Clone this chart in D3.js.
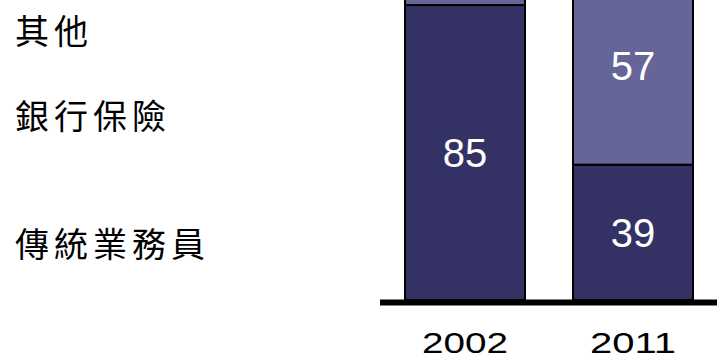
<!DOCTYPE html>
<html>
<head>
<meta charset="utf-8">
<script src="https://cdn.jsdelivr.net/npm/d3@7"></script>
<style>
  html, body { margin: 0; padding: 0; background: #fff; }
  svg { display: block; }
</style>
</head>
<body>
<svg id="chart" width="717" height="362"></svg>
<script>
const categories = ["2002", "2011"];
const seriesNames = ["傳統業務員", "銀行保險", "其他"];
const traditional = [85, 39];
const bancassurance = [12, 57];
const others = [3, 4];
const showLabel = [[true, true], [false, true], [false, false]];

const colors = ["#343264", "#656597", "#8a8ab8"];

const svg = d3.select("#chart");

const rows = categories.map((c, i) => ({
  cat: c,
  "傳統業務員": traditional[i],
  "銀行保險": bancassurance[i],
  "其他": others[i]
}));
const stack = d3.stack().keys(seriesNames)(rows);

const x = d3.scaleBand().domain(categories).range([381, 717])
  .paddingInner(0.2857).paddingOuter(0.1429);
const y = d3.scaleLinear().domain([0, 100]).range([300, -47]);

const g = svg.append("g");
stack.forEach((layer, si) => {
  layer.forEach((d, ci) => {
    g.append("rect")
      .attr("x", x(categories[ci]))
      .attr("y", y(d[1]))
      .attr("width", x.bandwidth())
      .attr("height", y(d[0]) - y(d[1]))
      .attr("fill", colors[si])
      .attr("stroke", "#000")
      .attr("stroke-width", 2);
    if (showLabel[si][ci]) {
      g.append("text")
        .attr("x", x(categories[ci]) + x.bandwidth() / 2)
        .attr("y", (y(d[0]) + y(d[1])) / 2)
        .attr("dy", "0.36em")
        .attr("text-anchor", "middle")
        .attr("fill", "#fff")
        .style("font-family", "'Liberation Sans', Arial, sans-serif")
        .style("font-size", "40px")
        .text(d[1] - d[0]);
    }
  });
});

// baseline
svg.append("line")
  .attr("x1", 380).attr("x2", 717)
  .attr("y1", 302.5).attr("y2", 302.5)
  .attr("stroke", "#000").attr("stroke-width", 6);

// category axis labels
const xAxis = d3.axisBottom(x).tickSize(0).tickPadding(0);
const ax = svg.append("g").attr("transform", "translate(0,342)").call(xAxis);
ax.select(".domain").remove();
ax.selectAll("text")
  .attr("y", 0).attr("dy", "0.36em")
  .attr("fill", "#000")
  .style("font-family", "'Liberation Sans', Arial, sans-serif")
  .style("font-size", "30px")
  .attr("textLength", 86)
  .attr("lengthAdjust", "spacingAndGlyphs");

// legend labels on the left
const legendY = { "其他": 32, "銀行保險": 117, "傳統業務員": 245 };
seriesNames.forEach(n => {
  svg.append("text")
    .attr("x", 15)
    .attr("y", legendY[n])
    .attr("dy", "0.36em")
    .attr("fill", "#000")
    .style("font-family", "'Noto Sans CJK TC', 'Noto Sans CJK SC', sans-serif")
    .style("font-size", "34px")
    .style("letter-spacing", "5px")
    .text(n);
});
</script>
</body>
</html>
